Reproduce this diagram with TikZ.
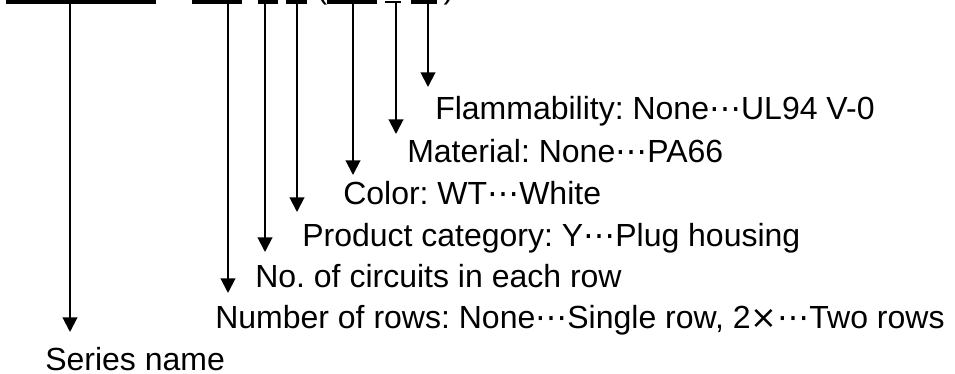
\documentclass[tikz,border=0pt]{standalone}
\usepackage{fontspec}
\setmainfont{Liberation Sans}
\newfontfamily\symfont{DejaVu Sans}
\usetikzlibrary{arrows.meta}
\frenchspacing

\newcommand{\mdots}{{\symfont ⋯}}

\begin{document}
\begin{tikzpicture}[x=0.75pt, y=-0.75pt,
    lbl/.style={anchor=base west, inner sep=0pt, font=\fontsize{24}{28}\selectfont},
    arr/.style={-{Triangle[width=11pt, length=11pt]}, line width=1.5pt}]
      \useasboundingbox (0, 0) rectangle (955, 374);
      \clip (0, 0) rectangle (955, 374);
      % blanks of the part number (cut off at the top)
      \fill (6, -6) rectangle (156, 4);
      \fill (192, -6) rectangle (242, 4);
      \fill (258, -6) rectangle (278, 4);
      \fill (286, -6) rectangle (307, 4);
      \fill (327, -6) rectangle (377, 4);
      \fill (385, 1) rectangle (401, 2.7);
      \fill (411, -6) rectangle (437, 4);
      \node[lbl, anchor=base] (lpar) at (322, -1) {(};
      \node[lbl, anchor=base] (rpar) at (449, -1) {)};
      % labels
      \node[lbl] (flam) at (435, 120) {Flammability: None\mdots UL94 V-0};
      \node[lbl] (mat) at (407, 162) {Material: None\mdots PA66};
      \node[lbl] (col) at (343, 204) {Color: WT\mdots White};
      \node[lbl] (cat) at (302, 246) {Product category: Y\mdots Plug housing};
      \node[lbl] (circ) at (255, 287) {No. of circuits in each row};
      \node[lbl] (rows) at (215, 328) {Number of rows: None\mdots Single row, 2{\symfont ×}\mdots Two rows};
      \node[lbl] (series) at (45, 370) {Series name};
      % arrow ends
      \coordinate (tflam) at (428, 87);
      \coordinate (tmat) at (396, 134);
      \coordinate (tcol) at (353, 175);
      \coordinate (tcat) at (297, 212);
      \coordinate (tcirc) at (265, 252);
      \coordinate (trows) at (228, 293);
      \coordinate (tseries) at (70, 332);
      \draw[arr] (428, 4) -- (tflam);
      \draw[arr] (396, 2) -- (tmat);
      \draw[arr] (353, 4) -- (tcol);
      \draw[arr] (297, 4) -- (tcat);
      \draw[arr] (265, 4) -- (tcirc);
      \draw[arr] (228, 4) -- (trows);
      \draw[arr] (70, 4) -- (tseries);
\end{tikzpicture}
\end{document}
